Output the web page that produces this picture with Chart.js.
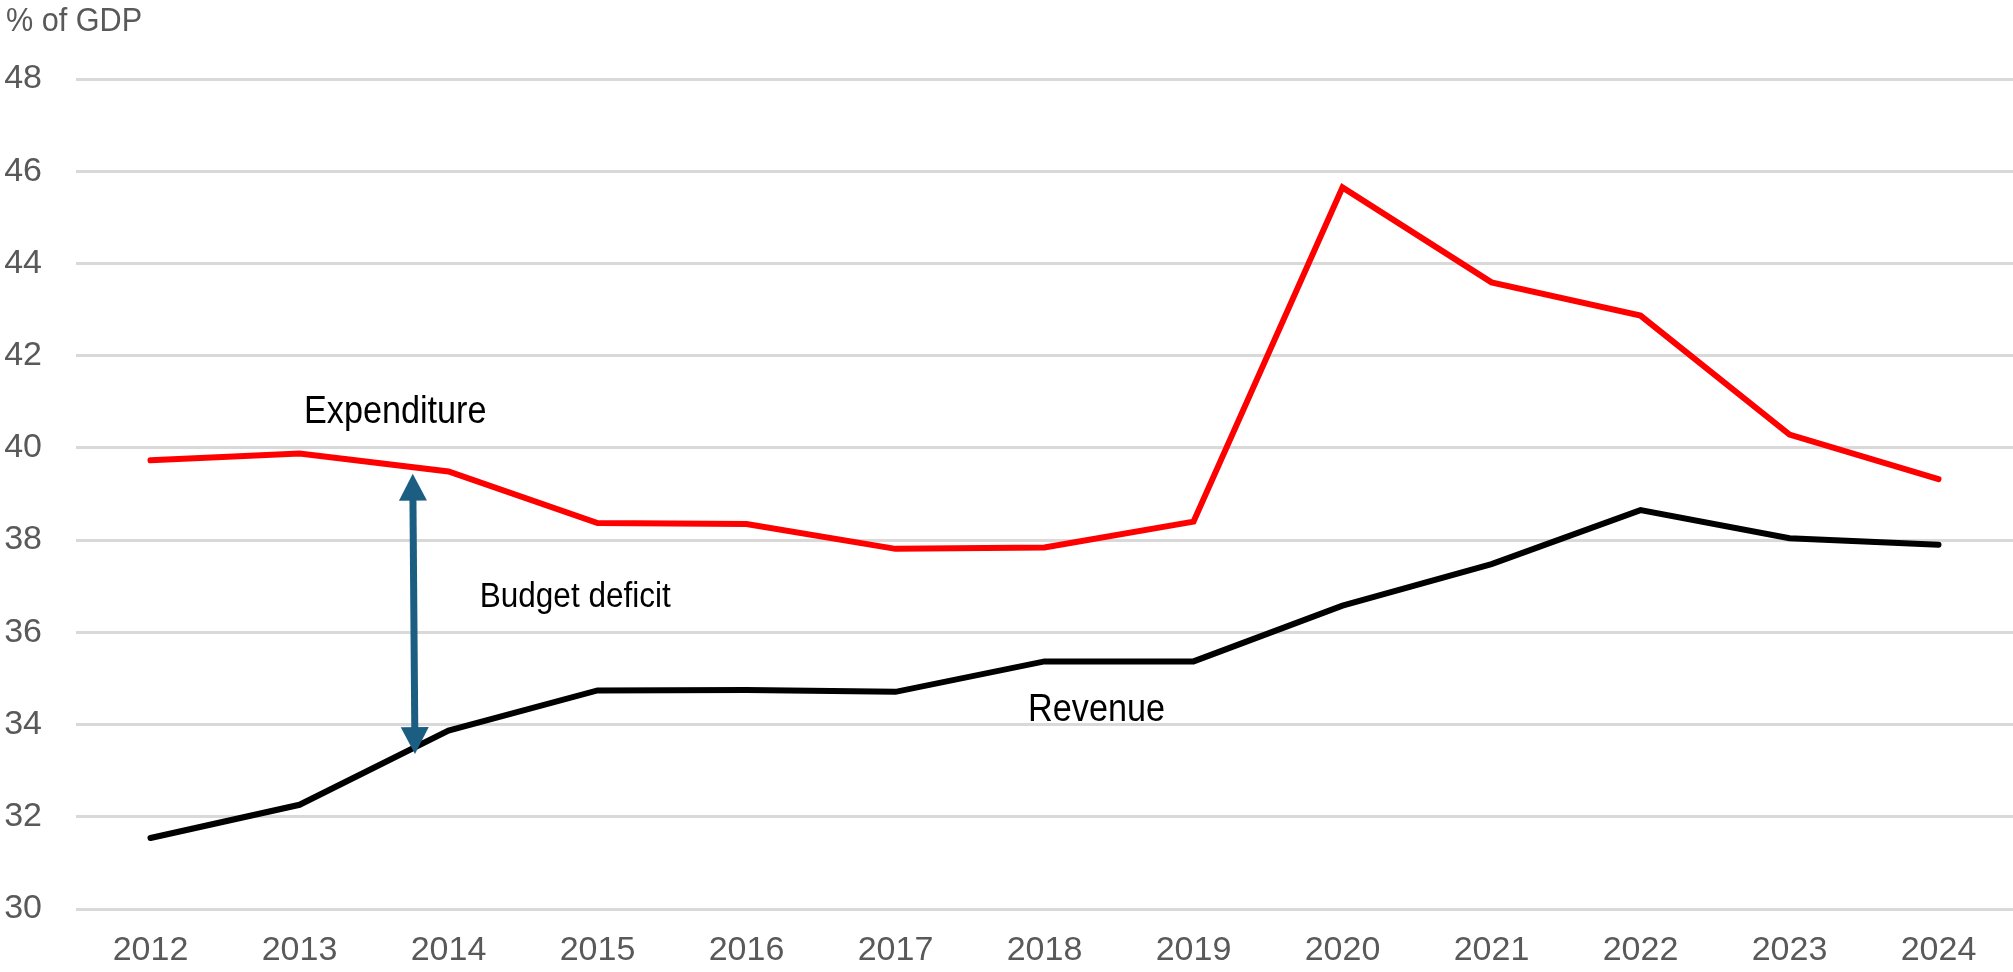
<!DOCTYPE html>
<html>
<head>
<meta charset="utf-8">
<script src="https://cdn.jsdelivr.net/npm/chart.js@4.4.1/dist/chart.umd.min.js"></script>
<style>
  html, body { margin: 0; padding: 0; background: #ffffff; overflow: hidden; }
  #wrap { width: 2013px; height: 972px; position: relative; }
</style>
</head>
<body>
<div id="wrap"><canvas id="chart" width="2013" height="972"></canvas></div>
<script>
// General government, % of GDP
const years = ['2012', '2013', '2014', '2015', '2016', '2017', '2018', '2019', '2020', '2021', '2022', '2023', '2024'];
const expenditure = [39.73, 39.88, 39.49, 38.37, 38.35, 37.81, 37.84, 38.40, 45.65, 43.59, 42.87, 40.29, 39.32];
const revenue = [31.54, 32.26, 33.87, 34.74, 34.75, 34.71, 35.37, 35.37, 36.58, 37.48, 38.65, 38.04, 37.90];
const yTicks = [30, 32, 34, 36, 38, 40, 42, 44, 46, 48];

// Text annotations, anchored in data units (category index, value)
const notes = [
  { text: 'Expenditure', at: [1.03, 40.55], size: 38 },
  { text: 'Budget deficit', at: [2.21, 36.56], size: 35 },
  { text: 'Revenue', at: [5.89, 34.07], size: 38 }
];
// Double-headed arrow marking the gap between the two lines
const deficitArrow = { from: [1.76, 39.44], to: [1.775, 33.36] };

const FONT = "'Liberation Sans', Arial, sans-serif";
const GREY = '#595959';
const SQUEEZE = 0.9; // condensed look for free text

const annotations = {
  id: 'annotations',
  afterDatasetsDraw(chart) {
    const { ctx, scales: { x, y } } = chart;
    ctx.save();

    // arrow
    const x1 = x.getPixelForValue(deficitArrow.from[0]);
    const y1 = y.getPixelForValue(deficitArrow.from[1]);
    const x2 = x.getPixelForValue(deficitArrow.to[0]);
    const y2 = y.getPixelForValue(deficitArrow.to[1]);
    const ang = Math.atan2(y2 - y1, x2 - x1);
    const headLen = 27, headHalf = 14;
    ctx.strokeStyle = '#1b5e82';
    ctx.fillStyle = '#1b5e82';
    ctx.lineWidth = 7;
    ctx.beginPath();
    ctx.moveTo(x1 + Math.cos(ang) * headLen * 0.8, y1 + Math.sin(ang) * headLen * 0.8);
    ctx.lineTo(x2 - Math.cos(ang) * headLen * 0.8, y2 - Math.sin(ang) * headLen * 0.8);
    ctx.stroke();
    const head = (tx, ty, a) => {
      const bx = tx - Math.cos(a) * headLen, by = ty - Math.sin(a) * headLen;
      ctx.beginPath();
      ctx.moveTo(tx, ty);
      ctx.lineTo(bx + Math.sin(a) * headHalf, by - Math.cos(a) * headHalf);
      ctx.lineTo(bx - Math.sin(a) * headHalf, by + Math.cos(a) * headHalf);
      ctx.closePath();
      ctx.fill();
    };
    head(x2, y2, ang);
    head(x1, y1, ang + Math.PI);

    const squeezedText = (text, px, py, size, color) => {
      ctx.save();
      ctx.fillStyle = color;
      ctx.font = size + 'px ' + FONT;
      ctx.textAlign = 'left';
      ctx.textBaseline = 'alphabetic';
      ctx.translate(px, py);
      ctx.scale(SQUEEZE, 1);
      ctx.fillText(text, 0, 0);
      ctx.restore();
    };

    notes.forEach(n => {
      squeezedText(n.text, x.getPixelForValue(n.at[0]), y.getPixelForValue(n.at[1]), n.size, '#000000');
    });

    // unit label above the value axis
    squeezedText('% of GDP', 6, 31, 34, GREY);
    ctx.restore();
  }
};

new Chart(document.getElementById('chart'), {
  type: 'line',
  data: {
    labels: years,
    datasets: [
      {
        label: 'Expenditure',
        data: expenditure,
        borderColor: '#ff0000',
        borderWidth: 6,
        pointRadius: 0,
        borderCapStyle: 'round',
        borderJoinStyle: 'miter',
        tension: 0
      },
      {
        label: 'Revenue',
        data: revenue,
        borderColor: '#000000',
        borderWidth: 6,
        pointRadius: 0,
        borderCapStyle: 'round',
        borderJoinStyle: 'miter',
        tension: 0
      }
    ]
  },
  options: {
    responsive: false,
    animation: false,
    devicePixelRatio: 1,
    layout: { padding: { left: 5, right: 0, top: 79, bottom: 3 } },
    plugins: {
      legend: { display: false },
      tooltip: { enabled: false },
      title: { display: false }
    },
    scales: {
      x: {
        offset: true,
        grid: { display: false, drawTicks: false },
        border: { display: false },
        afterFit(scale) { scale.height = 60; },
        ticks: {
          color: GREY,
          font: { family: FONT, size: 34 },
          padding: 21,
          maxRotation: 0,
          autoSkip: false
        }
      },
      y: {
        min: 30,
        max: 48,
        afterBuildTicks(scale) {
          scale.ticks = yTicks.map(v => ({ value: v }));
        },
        afterFit(scale) { scale.width = 71; },
        grid: { color: '#d9d9d9', lineWidth: 3, drawTicks: false },
        border: { display: false },
        ticks: {
          color: GREY,
          font: { family: FONT, size: 34 },
          padding: 34
        }
      }
    }
  },
  plugins: [annotations]
});
</script>
</body>
</html>
